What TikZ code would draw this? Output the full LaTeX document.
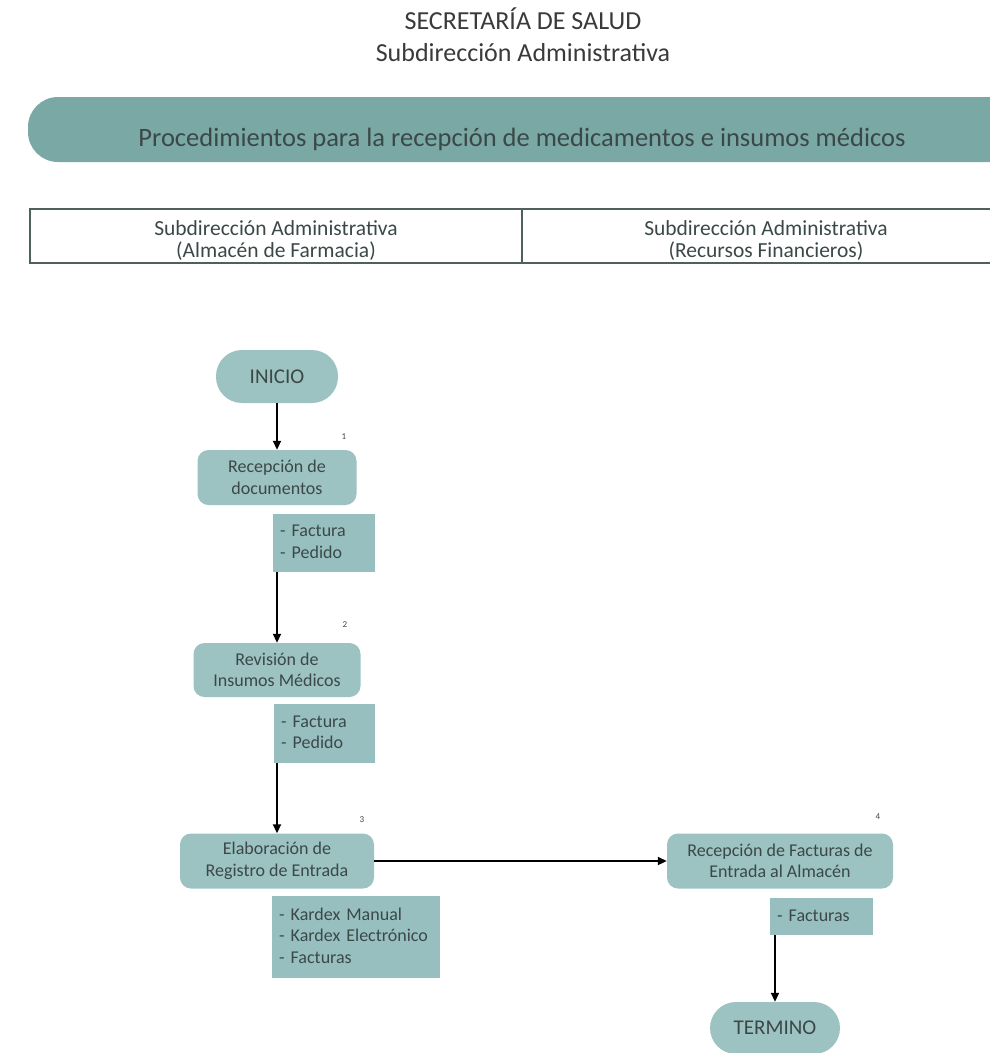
\documentclass[tikz,border=0pt]{standalone}
\usepackage{fontspec}
\setmainfont{Carlito}
\usetikzlibrary{arrows.meta}

\definecolor{bannerfill}{HTML}{7AA8A5}
\definecolor{boxfill}{HTML}{9CC2C2}
\definecolor{docfill}{HTML}{98BFC0}
\definecolor{ink}{HTML}{3B4848}
\definecolor{headink}{HTML}{3A3A3A}
\definecolor{rulecol}{HTML}{4F605F}

\newcommand\fnode{\fontsize{18}{21.5}\selectfont}
% left-aligned list of documents, never wrapped
\newcommand\doclist[1]{\begin{tabular}{@{}l@{}}#1\end{tabular}}

\begin{document}
\begin{tikzpicture}[x=1pt,y=-1pt,
  proc/.style={fill=boxfill, rounded corners=11pt, align=center, text=ink,
    font=\fnode, inner sep=0pt},
  term/.style={proc, rounded corners=26pt, font=\fontsize{21}{24}\selectfont},
  doc/.style={fill=docfill, text=ink, font=\fnode,
    inner xsep=7pt, inner ysep=0pt, anchor=north west},
  num/.style={font=\fontsize{9}{10}\selectfont, text=ink},
  arr/.style={-{Triangle[length=9pt,width=8pt]}, line width=1.8pt, black},
  lane/.style={font=\fontsize{21.5}{22}\selectfont, text=ink, align=center}
]
\useasboundingbox (0,0) rectangle (990,1053);

% heading
\node[anchor=base, font=\fontsize{26}{30}\selectfont, text=headink] (h1) at (523,29) {SECRETARÍA DE SALUD};
\node[anchor=base, font=\fontsize{26}{30}\selectfont, text=headink] (h2) at (523,61) {Subdirección Administrativa};

% banner
\path[fill=bannerfill, rounded corners=30pt] (28,97) rectangle (1040,162);
\node[anchor=base, font=\fontsize{26.5}{30}\selectfont, text=ink] (ban) at (522,146)
  {Procedimientos para la recepción de medicamentos e insumos médicos};

% lanes header
\draw[rulecol, line width=2pt] (30,209) rectangle (1010,263);
\draw[rulecol, line width=2pt] (522,209) -- (522,263);
\node[lane] (l1) at (276,241) {Subdirección Administrativa\\(Almacén de Farmacia)};
\node[lane] (l2) at (766,241) {Subdirección Administrativa\\(Recursos Financieros)};

% flow nodes
\node[term, minimum width=122pt, minimum height=53pt] (ini) at (277,376.5) {INICIO};
\node[proc, minimum width=159pt, minimum height=55pt] (rec) at (277,477.5) {Recepción de\\documentos};
\node[doc, text width=88pt, minimum height=58pt] (d1) at (273,514) {\doclist{- Factura\\- Pedido}};
\node[proc, minimum width=167pt, minimum height=54pt] (rev) at (277,670) {Revisión de\\Insumos Médicos};
\node[doc, text width=87pt, minimum height=59pt] (d2) at (274,704) {\doclist{- Factura\\- Pedido}};
\node[proc, minimum width=194pt, minimum height=55pt] (ela) at (277,861) {Elaboración de\\Registro de Entrada};
\node[doc, text width=154pt, minimum height=82pt] (d3) at (272,896) {\doclist{- Kardex Manual\\- Kardex Electrónico\\- Facturas}};
\node[proc, minimum width=226pt, minimum height=55pt] (rf) at (780,861) {Recepción de Facturas de\\Entrada al Almacén};
\node[doc, text width=89pt, minimum height=37pt] (d4) at (770,898) {\doclist{- Facturas}};
\node[term, minimum width=130pt, minimum height=52pt] (ter) at (775,1028) {TERMINO};

% step numbers
\node[num] (n1) at (344,437) {1};
\node[num] (n2) at (345,625) {2};
\node[num] (n3) at (362,820) {3};
\node[num] (n4) at (878,817) {4};

% connectors
\draw[arr] (ini.south) -- (rec.north);
\draw[arr] (rec.center |- d1.south) -- (rev.north);
\draw[arr] (rev.center |- d2.south) -- (ela.north);
\draw[arr] (ela.east) -- (rf.west);
\draw[arr] (ter.north |- d4.south) -- (ter.north);
\end{tikzpicture}
\end{document}
